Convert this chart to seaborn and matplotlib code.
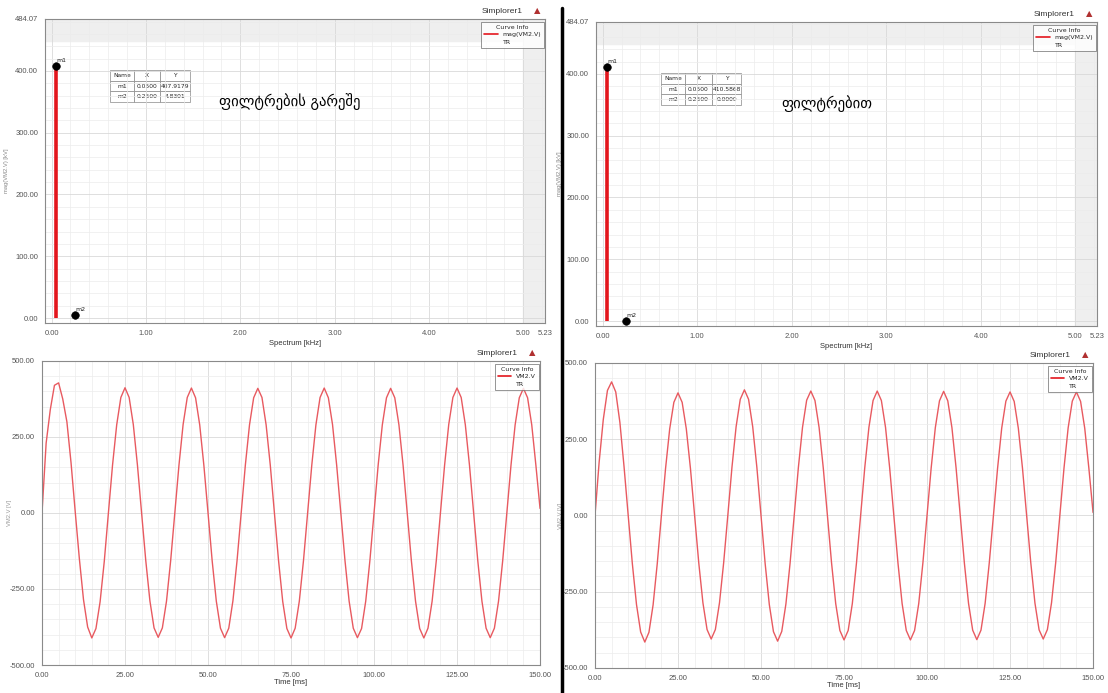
import numpy as np
import pandas as pd
import matplotlib.pyplot as plt
import seaborn as sns
from matplotlib import font_manager
from matplotlib.lines import Line2D
from matplotlib.ticker import FormatStrFormatter, MultipleLocator

sns.set_style("white")
plt.rcParams['font.family'] = ['DejaVu Sans']

# spectrum markers (kHz, kV)
freq_khz = [0.05, 0.25]
mag_no_filter = [407.9179, 4.8301]
mag_filter = [410.5868, 0.0]
marker_names = ["m1", "m2"]

# time samples every 1.25 ms, 0..150 ms
time_ms = [i * 1.25 for i in range(121)]

vm2_no_filter = [
    0, 230, 340, 420, 428, 375, 300, 165, 5, -150, -285, -375, -411, -380, -292, -160,
    0, 158, 290, 380, 412, 380, 291, 157, 0, -156, -289, -378, -409, -378, -290, -157,
    0, 157, 291, 380, 411, 379, 290, 157, 1, -157, -290, -379, -410, -379, -289, -156,
    1, 158, 290, 379, 410, 380, 290, 158, 0, -157, -291, -380, -411, -379, -290, -157,
    0, 157, 290, 380, 411, 379, 291, 157, 0, -156, -290, -379, -410, -380, -290, -157,
    0, 158, 290, 379, 410, 379, 290, 157, 0, -157, -290, -380, -411, -379, -290, -157,
    0, 157, 291, 380, 411, 380, 290, 157, 0, -157, -290, -379, -410, -379, -290, -157,
    0, 157, 290, 379, 410, 379, 290, 157, 15,
]

vm2_filter = [
    0, 175, 315, 410, 438, 405, 305, 160, 0, -158, -292, -382, -415, -383, -293, -158,
    0, 154, 284, 371, 402, 371, 284, 154, 0, -155, -286, -374, -405, -374, -286, -155,
    0, 158, 291, 381, 412, 381, 291, 158, 0, -158, -292, -381, -412, -380, -290, -157,
    0, 157, 289, 378, 408, 377, 288, 156, 0, -156, -289, -377, -408, -377, -289, -156,
    0, 157, 289, 377, 408, 377, 289, 156, 0, -156, -289, -377, -408, -377, -289, -156,
    0, 156, 288, 376, 407, 376, 288, 156, 0, -156, -288, -376, -407, -376, -288, -155,
    0, 155, 287, 375, 405, 374, 286, 155, 0, -155, -287, -375, -405, -374, -286, -155,
    0, 155, 287, 375, 405, 374, 286, 154, 10,
]

titles = ["ფილტრების გარეშე", "ფილტრებით"]

red = "#e3161d"
wave_red = "#e85a60"
grid_major = "#d9d9d9"
grid_minor = "#ececec"
tick_col = "#555555"

names = {f.name for f in font_manager.fontManager.ttflist}
tick_font = "Liberation Sans Narrow" if "Liberation Sans Narrow" in names else "Liberation Sans"

fig = plt.figure(figsize=(11.08, 6.93), dpi=100)
fig.patch.set_facecolor("white")

ax_tl = fig.add_axes([0.0406, 0.5339, 0.4513, 0.4387])
ax_tr = fig.add_axes([0.5379, 0.5296, 0.4522, 0.4387])
ax_bl = fig.add_axes([0.0379, 0.0404, 0.4495, 0.4387])
ax_br = fig.add_axes([0.5370, 0.0361, 0.4495, 0.4401])


def style_axes(ax):
    ax.set_axisbelow(True)
    ax.grid(True, which="major", color=grid_major, lw=0.6)
    ax.grid(True, which="minor", color=grid_minor, lw=0.5)
    for s in ax.spines.values():
        s.set_color("#8a8a8a")
        s.set_linewidth(0.8)
    ax.tick_params(axis="both", which="both", labelsize=5.5, colors=tick_col,
                   direction="out", length=3, width=0.6, pad=2)
    ax.tick_params(axis="both", which="minor", length=2)
    for lab in ax.get_xticklabels() + ax.get_yticklabels():
        lab.set_family(tick_font)


def header(ax, x=0.955, y=1.012):
    ax.text(x, y, "Simplorer1", transform=ax.transAxes, ha="right", va="bottom",
            fontsize=6, color="#333333", family=tick_font)
    ax.text(x + 0.035, y, "▲", transform=ax.transAxes, ha="right", va="bottom",
            fontsize=6, color="#b03030")


def curve_legend(ax, label):
    h = [Line2D([], [], color=red, lw=1.2), Line2D([], [], color="none")]
    leg = ax.legend(h, [label, "TR"], title="Curve Info", loc="upper right",
                    bbox_to_anchor=(1.005, 1.0), fontsize=4.5, title_fontsize=4.5,
                    frameon=True, fancybox=False, handlelength=2.2,
                    borderpad=0.5, labelspacing=0.3)
    leg.get_frame().set_edgecolor("#666666")
    leg.get_frame().set_linewidth(0.6)


def spectrum_panel(ax, mags, title, title_xy, ylab_x):
    ax.axhspan(449, 484.07, color="#efefef", zorder=0)
    ax.axvspan(5.0, 5.23, color="#efefef", zorder=0)
    ax.vlines(freq_khz, 0, mags, color=red, lw=2.6, zorder=3)
    df = pd.DataFrame({"f": freq_khz, "m": mags, "name": marker_names})
    sns.scatterplot(data=df, x="f", y="m", ax=ax, color="black", s=30,
                    edgecolor="black", zorder=4, legend=False)
    for _, r in df.iterrows():
        ax.annotate(r["name"], (r["f"], r["m"]), xytext=(0, 3),
                    textcoords="offset points", fontsize=4.5, ha="left", color="#222222")
    ax.set_xlim(-0.07, 5.23)
    ax.set_ylim(-8, 484.07)
    ax.set_xticks([0, 1, 2, 3, 4, 5, 5.23])
    ax.set_yticks([0, 100, 200, 300, 400, 484.07])
    ax.xaxis.set_minor_locator(MultipleLocator(0.2))
    ax.yaxis.set_minor_locator(MultipleLocator(20))
    ax.xaxis.set_major_formatter(FormatStrFormatter("%.2f"))
    ax.yaxis.set_major_formatter(FormatStrFormatter("%.2f"))
    style_axes(ax)
    ax.set_xlabel("Spectrum [kHz]", fontsize=5.5, color="#333333", labelpad=2,
                  family=tick_font)
    ax.set_ylabel("mag(VM2.V) [kV]", fontsize=4.2, color="#888888", family=tick_font)
    ax.yaxis.set_label_coords(ylab_x, 0.5)
    header(ax)
    curve_legend(ax, "mag(VM2.V)")
    cells = [[n, "%.4f" % f, "%.4f" % m] for n, f, m in zip(marker_names, freq_khz, mags)]
    tb = ax.table(cellText=cells, colLabels=["Name", "X", "Y"], cellLoc="center",
                  bbox=[0.13, 0.727, 0.16, 0.105], colWidths=[0.3, 0.33, 0.37])
    tb.auto_set_font_size(False)
    tb.set_fontsize(4.3)
    for c in tb.get_celld().values():
        c.set_edgecolor("#888888")
        c.set_linewidth(0.5)
    ax.text(title_xy[0], title_xy[1], title, transform=ax.transAxes, fontsize=10.5,
            color="black", ha="center", va="center")


def wave_panel(ax, values, ylab_x):
    df = pd.DataFrame({"t": time_ms, "v": values})
    sns.lineplot(data=df, x="t", y="v", ax=ax, color=wave_red, lw=1.0)
    ax.set_xlim(0, 150)
    ax.set_ylim(-500, 500)
    ax.set_xticks([0, 25, 50, 75, 100, 125, 150])
    ax.set_yticks([-500, -250, 0, 250, 500])
    ax.xaxis.set_minor_locator(MultipleLocator(5))
    ax.yaxis.set_minor_locator(MultipleLocator(50))
    ax.xaxis.set_major_formatter(FormatStrFormatter("%.2f"))
    ax.yaxis.set_major_formatter(FormatStrFormatter("%.2f"))
    style_axes(ax)
    ax.set_xlabel("Time [ms]", fontsize=5.5, color="#333333", family=tick_font)
    ax.xaxis.set_label_coords(0.5, -0.045)
    ax.set_ylabel("VM2.V [V]", fontsize=4.2, color="#999999", family=tick_font)
    ax.yaxis.set_label_coords(ylab_x, 0.5)
    header(ax)
    curve_legend(ax, "VM2.V")


spectrum_panel(ax_tl, mag_no_filter, titles[0], (0.49, 0.73), -0.072)
spectrum_panel(ax_tr, mag_filter, titles[1], (0.46, 0.73), -0.068)
wave_panel(ax_bl, vm2_no_filter, -0.06)
wave_panel(ax_br, vm2_filter, -0.064)

# black divider between the two screenshots
fig.add_artist(Line2D([562 / 1108, 562 / 1108], [0, 1 - 8 / 693],
                      transform=fig.transFigure, color="black", lw=2.5))

fig.savefig("out.png", dpi=100)
